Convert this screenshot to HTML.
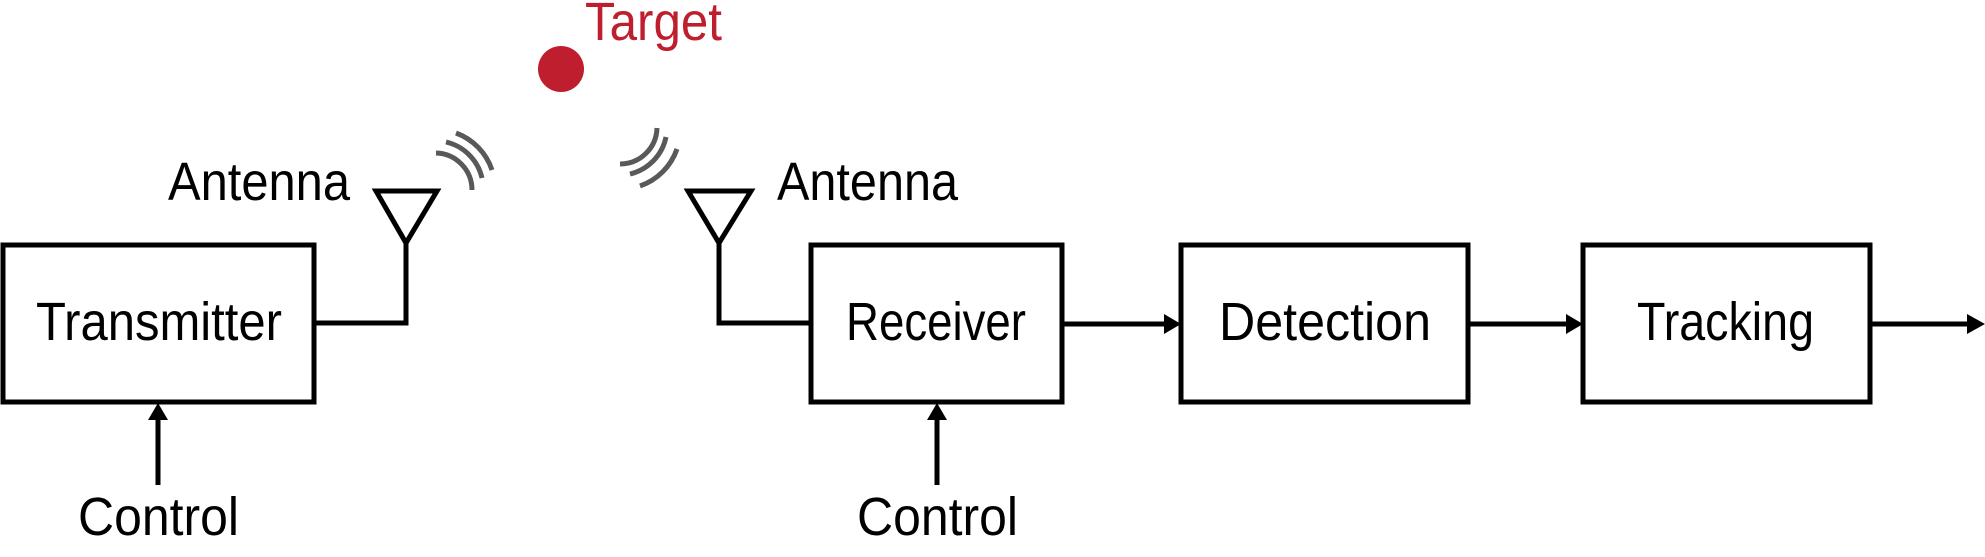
<!DOCTYPE html>
<html><head><meta charset="utf-8"><style>
html,body{margin:0;padding:0;background:#fff;width:1985px;height:557px;overflow:hidden}
text{font-family:"Liberation Sans",sans-serif;font-size:54px;fill:#000}
</style></head><body>
<svg width="1985" height="557" viewBox="0 0 1985 557" xmlns="http://www.w3.org/2000/svg">
<g fill="none" stroke="#000" stroke-width="5">
<rect x="3" y="245" width="311" height="157"/>
<rect x="811" y="245" width="251" height="157"/>
<rect x="1181" y="245" width="287" height="157"/>
<rect x="1583" y="245" width="287" height="157"/>
<polyline points="314,323 406,323 406,243"/>
<polygon points="376,191 437,191 406,243"/>
<polyline points="811,323 719,323 719,243"/>
<polygon points="688,191 751,191 719,243"/>
<line x1="1062" y1="324" x2="1165" y2="324"/>
<line x1="1468" y1="324" x2="1568" y2="324"/>
<line x1="1870" y1="324" x2="1968" y2="324"/>
<line x1="158" y1="485" x2="158" y2="418"/>
<line x1="937" y1="485" x2="937" y2="418"/>
</g>
<g fill="#000">
<polygon points="1164,314 1181,324 1164,334"/>
<polygon points="1566,314 1583,324 1566,334"/>
<polygon points="1967,314 1985,324 1967,334"/>
<polygon points="148,420 158,403 168,420"/>
<polygon points="927,420 937,403 947,420"/>
</g>
<g fill="none" stroke="#595959" stroke-width="5">
<path d="M436,153 A37,37 0 0 1 472,190"/>
<path d="M446,142 A48,48 0 0 1 482,178"/>
<path d="M456,133 A60,60 0 0 1 492,170"/>
<path d="M620,164 A37,37 0 0 0 657,128"/>
<path d="M630,174 A48,48 0 0 0 666,137"/>
<path d="M640,186 A60,60 0 0 0 677,149"/>
</g>
<circle cx="561" cy="69" r="23" fill="#be1e2d"/>
<text x="585" y="40" style="fill:#be1e2d" font-size="48" textLength="137" lengthAdjust="spacingAndGlyphs">Target</text>
<text x="168" y="200" textLength="182" lengthAdjust="spacingAndGlyphs">Antenna</text>
<text x="777" y="200" textLength="181" lengthAdjust="spacingAndGlyphs">Antenna</text>
<text x="36" y="340" textLength="246" lengthAdjust="spacingAndGlyphs">Transmitter</text>
<text x="846" y="340" textLength="180" lengthAdjust="spacingAndGlyphs">Receiver</text>
<text x="1219" y="340" textLength="212" lengthAdjust="spacingAndGlyphs">Detection</text>
<text x="1637" y="340" textLength="177" lengthAdjust="spacingAndGlyphs">Tracking</text>
<text x="78" y="535" textLength="161" lengthAdjust="spacingAndGlyphs">Control</text>
<text x="857" y="535" textLength="161" lengthAdjust="spacingAndGlyphs">Control</text>
</svg>
</body></html>
